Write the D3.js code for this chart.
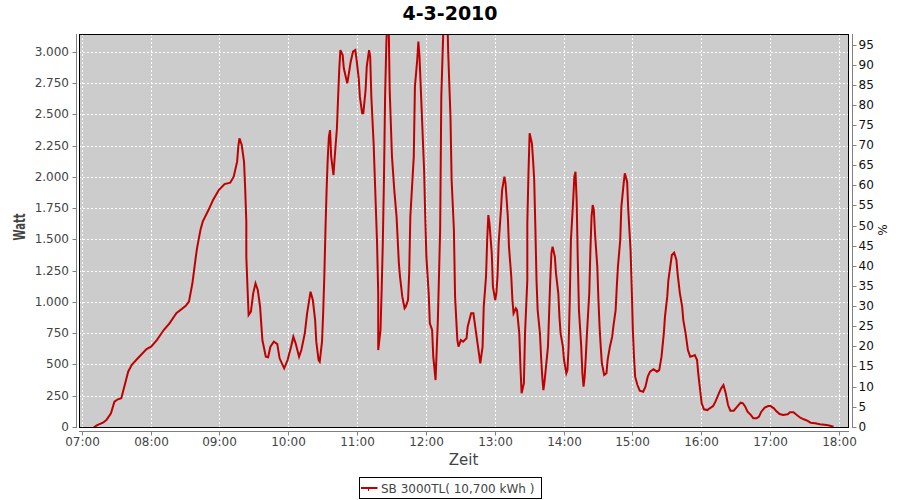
<!DOCTYPE html>
<html>
<head>
<meta charset="utf-8">
<script src="https://cdn.jsdelivr.net/npm/d3@7"></script>
<style>
  html, body { margin: 0; padding: 0; background: #fff; }
  svg { display: block; font-family: "DejaVu Sans", sans-serif; }
</style>
</head>
<body>
<svg id="chart" width="900" height="500"></svg>
<script>
// ---------- data ----------
const chartTitle = "4-3-2010";
const seriesName = "SB 3000TL( 10,700 kWh )";
const times = ["07:10","07:13","07:18","07:21","07:25","07:28","07:31","07:34","07:37","07:40","07:43","07:47","07:56","08:00","08:05","08:11","08:16","08:22","08:30","08:33","08:36","08:39","08:40","08:43","08:45","08:50","08:54","08:59","09:04","09:09","09:12","09:15","09:16","09:17","09:19","09:21","09:22","09:23","09:23","09:24","09:25","09:27","09:29","09:31","09:33","09:35","09:37","09:40","09:42","09:44","09:47","09:50","09:52","09:56","09:59","10:02","10:04","10:06","10:09","10:11","10:14","10:16","10:19","10:21","10:23","10:24","10:26","10:27","10:29","10:30","10:31","10:32","10:33","10:34","10:35","10:36","10:37","10:39","10:40","10:42","10:43","10:44","10:45","10:47","10:48","10:51","10:52","10:54","10:56","10:58","10:59","11:01","11:02","11:04","11:05","11:07","11:08","11:10","11:11","11:12","11:14","11:15","11:16","11:17","11:18","11:18","11:20","11:21","11:22","11:23","11:24","11:25","11:26","11:27","11:28","11:30","11:32","11:34","11:35","11:36","11:37","11:39","11:41","11:42","11:44","11:45","11:46","11:49","11:50","11:52","11:53","11:54","11:56","11:58","11:59","12:00","12:02","12:03","12:05","12:06","12:08","12:09","12:10","12:12","12:13","12:15","12:16","12:17","12:18","12:19","12:21","12:22","12:24","12:25","12:27","12:28","12:30","12:32","12:35","12:36","12:39","12:41","12:43","12:45","12:47","12:49","12:50","12:52","12:53","12:54","12:55","12:57","12:58","13:00","13:01","13:02","13:03","13:05","13:06","13:08","13:09","13:11","13:12","13:14","13:15","13:16","13:18","13:19","13:21","13:22","13:23","13:25","13:26","13:28","13:28","13:29","13:30","13:32","13:33","13:34","13:35","13:36","13:37","13:39","13:40","13:41","13:42","13:43","13:44","13:46","13:47","13:48","13:49","13:50","13:52","13:53","13:55","13:56","13:57","13:59","14:00","14:02","14:03","14:04","14:05","14:06","14:08","14:09","14:10","14:11","14:12","14:13","14:15","14:16","14:17","14:18","14:19","14:20","14:22","14:23","14:24","14:25","14:26","14:27","14:29","14:30","14:31","14:32","14:33","14:35","14:37","14:38","14:40","14:42","14:43","14:45","14:46","14:47","14:49","14:50","14:52","14:53","14:55","14:56","14:58","14:59","15:00","15:01","15:02","15:04","15:06","15:09","15:11","15:13","15:15","15:18","15:21","15:23","15:25","15:27","15:28","15:30","15:31","15:33","15:34","15:36","15:38","15:39","15:41","15:43","15:44","15:46","15:48","15:50","15:52","15:54","15:56","15:57","15:59","16:00","16:02","16:05","16:07","16:10","16:12","16:15","16:17","16:19","16:21","16:23","16:25","16:28","16:31","16:34","16:36","16:38","16:40","16:43","16:45","16:48","16:50","16:52","16:55","16:58","17:00","17:03","17:05","17:08","17:11","17:15","17:17","17:20","17:23","17:26","17:29","17:32","17:35","17:39","17:43","17:49","17:52","17:55"];
const watts = [0,18,37,58,112,205,224,232,338,445,498,538,626,645,698,778,832,912,970,1005,1152,1365,1432,1578,1645,1738,1818,1898,1946,1957,2005,2125,2245,2312,2258,2125,1912,1645,1365,1125,898,925,1072,1152,1098,965,698,565,560,645,685,666,552,472,538,645,725,672,565,618,752,912,1085,1018,858,685,538,525,685,912,1205,1578,1898,2152,2325,2378,2165,2018,2152,2392,2632,2858,3018,2978,2872,2752,2805,2925,3005,3018,2952,2792,2645,2512,2512,2698,2885,3018,2965,2645,2272,2005,1738,1472,1072,618,778,1098,1472,1978,2645,3045,3300,3300,2698,2165,1898,1685,1498,1312,1205,1045,952,965,1018,1232,1685,2165,2725,2938,3085,2965,2512,2058,1685,1365,1072,832,778,565,378,618,858,1578,2645,3250,3500,3550,3400,3000,2485,1978,1578,1045,698,645,698,685,712,805,912,912,778,645,512,645,965,1205,1498,1698,1632,1392,1125,1018,1072,1205,1472,1738,1898,2005,1952,1685,1445,1205,1018,912,952,938,752,485,272,352,752,1178,1632,2032,2352,2272,2138,1978,1605,1178,938,752,565,405,298,365,458,645,912,1178,1392,1445,1365,1232,1072,885,752,645,538,432,458,645,1018,1498,1818,2005,2045,1818,1338,938,645,432,325,405,565,752,1072,1418,1685,1778,1738,1552,1285,1018,805,645,512,418,432,538,645,725,805,938,1125,1285,1498,1765,1952,2032,1965,1738,1418,1125,778,565,405,338,293,285,325,405,445,464,445,458,565,752,885,1045,1178,1312,1378,1397,1338,1232,1072,965,858,752,618,565,570,578,538,432,272,192,144,138,152,170,205,272,312,338,272,178,133,133,165,197,192,165,125,98,72,72,85,125,157,170,170,152,130,106,98,104,120,120,98,77,64,53,37,32,24,18,13,5];
const xTickLabels = ["07:00","08:00","09:00","10:00","11:00","12:00","13:00","14:00","15:00","16:00","17:00","18:00"];
const wattTicks = [0,250,500,750,1000,1250,1500,1750,2000,2250,2500,2750,3000];
const percentTicks = [0,5,10,15,20,25,30,35,40,45,50,55,60,65,70,75,80,85,90,95];
const xLabel = "Zeit";
const yLabel = "Watt";
const y2Label = "%";

// ---------- layout ----------
const plot = { left: 79, right: 849, top: 34, bottom: 428 };
const svg = d3.select("#chart");
const day = "2010-03-04T";
const parseT = d3.timeParse("%Y-%m-%dT%H:%M");
const data = times.map((t, i) => ({ t: parseT(day + t), w: watts[i] }));

const x = d3.scaleTime()
  .domain([parseT(day + "07:00"), parseT(day + "18:00")])
  .range([82.3, 839.3]);
const y = d3.scaleLinear().domain([0, 3000]).range([427.3, 52.3]);
const y2 = d3.scaleLinear().domain([0, 95]).range([427.3, 45.0]);

const de = d3.formatLocale({ decimal: ",", thousands: ".", grouping: [3], currency: ["", "€"] });
const fmtW = de.format(",d");
const snap = v => Math.floor(v) + 0.5;

// background
svg.append("rect").attr("x", 0).attr("y", 0).attr("width", 900).attr("height", 500).attr("fill", "#fff");

// plot area
svg.append("rect")
  .attr("x", plot.left).attr("y", plot.top)
  .attr("width", plot.right - plot.left).attr("height", plot.bottom - plot.top)
  .attr("fill", "#cccccc");

// grid lines
const grid = svg.append("g").attr("stroke", "#ffffff").attr("stroke-width", 1).attr("stroke-dasharray", "2,2");
grid.selectAll("line.h").data(wattTicks).join("line")
  .attr("x1", plot.left).attr("x2", plot.right)
  .attr("y1", d => snap(y(d))).attr("y2", d => snap(y(d)));
grid.selectAll("line.v").data(xTickLabels).join("line")
  .attr("x1", d => snap(x(parseT(day + d)))).attr("x2", d => snap(x(parseT(day + d))))
  .attr("y1", plot.top).attr("y2", plot.bottom);

// clip + series line
svg.append("clipPath").attr("id", "clip").append("rect")
  .attr("x", plot.left).attr("y", plot.top + 1)
  .attr("width", plot.right - plot.left).attr("height", plot.bottom - plot.top - 1);

const line = d3.line().x(d => x(d.t)).y(d => y(d.w));
svg.append("path")
  .datum(data)
  .attr("clip-path", "url(#clip)")
  .attr("fill", "none")
  .attr("stroke", "#c00000")
  .attr("stroke-width", 2)
  .attr("stroke-linejoin", "miter")
  .attr("d", line);

// plot outline
svg.append("rect")
  .attr("x", plot.left + 0.5).attr("y", plot.top + 0.5)
  .attr("width", plot.right - plot.left - 1).attr("height", plot.bottom - plot.top - 1)
  .attr("fill", "none").attr("stroke", "#000").attr("stroke-width", 1);

// ---------- axes ----------
function styleAxis(g, color) {
  g.selectAll("path.domain").attr("stroke", "#808080");
  g.selectAll(".tick line").attr("stroke", "#808080");
  g.selectAll(".tick text").attr("fill", color).attr("font-size", 12).attr("font-family", "DejaVu Sans, sans-serif");
}

// left axis
const yAxis = d3.axisLeft(y).tickValues(wattTicks).tickFormat(fmtW).tickSize(4).tickSizeOuter(0).tickPadding(3.5);
const gy = svg.append("g").attr("transform", "translate(76.5,0)").call(yAxis);
gy.select("path.domain").attr("d", `M0,${plot.top}V${plot.bottom}`);
gy.selectAll(".tick").attr("transform", d => `translate(0,${snap(y(d))})`);
styleAxis(gy, "#444");

// right axis
const y2Axis = d3.axisRight(y2).tickValues(percentTicks).tickFormat(d3.format("d")).tickSize(4).tickSizeOuter(0).tickPadding(2);
const gy2 = svg.append("g").attr("transform", "translate(852.5,0)").call(y2Axis);
gy2.select("path.domain").attr("d", `M0,${plot.top}V${plot.bottom}`);
gy2.selectAll(".tick").attr("transform", d => `translate(0,${snap(y2(d))})`);
styleAxis(gy2, "#111");

// bottom axis
const xAxis = d3.axisBottom(x)
  .tickValues(xTickLabels.map(s => parseT(day + s)))
  .tickFormat(d3.timeFormat("%H:%M"))
  .tickSize(4).tickSizeOuter(0).tickPadding(2);
const gx = svg.append("g").attr("transform", "translate(0,431.5)").call(xAxis);
gx.select("path.domain").attr("d", `M${plot.left},0H${plot.right}`);
gx.selectAll(".tick").attr("transform", d => `translate(${snap(x(d))},0)`);
styleAxis(gx, "#444");

// ---------- labels ----------
svg.append("text")
  .attr("x", 450).attr("y", 19.5)
  .attr("text-anchor", "middle")
  .attr("font-size", 19).attr("font-weight", "bold").attr("fill", "#000")
  .text(chartTitle);

svg.append("text")
  .attr("transform", "translate(25,227) rotate(-90)")
  .attr("text-anchor", "middle")
  .attr("font-size", 15).attr("font-weight", "bold").attr("fill", "#444")
  .attr("textLength", 27).attr("lengthAdjust", "spacingAndGlyphs")
  .text(yLabel);

svg.append("text")
  .attr("transform", "translate(887,230) rotate(-90)")
  .attr("text-anchor", "middle")
  .attr("font-size", 12).attr("fill", "#111")
  .text(y2Label);

svg.append("text")
  .attr("x", 463.5).attr("y", 465)
  .attr("text-anchor", "middle")
  .attr("font-size", 15).attr("fill", "#444")
  .text(xLabel);

// ---------- legend ----------
const lg = svg.append("g");
lg.append("rect").attr("x", 359.5).attr("y", 477.5).attr("width", 182).attr("height", 21)
  .attr("fill", "#fff").attr("stroke", "#000").attr("stroke-width", 1);
lg.append("line").attr("x1", 361).attr("x2", 377.5).attr("y1", 488).attr("y2", 488)
  .attr("stroke", "#c00000").attr("stroke-width", 2);
lg.append("line").attr("x1", 368.5).attr("x2", 368.5).attr("y1", 489).attr("y2", 491)
  .attr("stroke", "#c00000").attr("stroke-width", 1);
lg.append("text").attr("x", 381).attr("y", 493)
  .attr("font-size", 12).attr("fill", "#444")
  .text(seriesName);
</script>
</body>
</html>
